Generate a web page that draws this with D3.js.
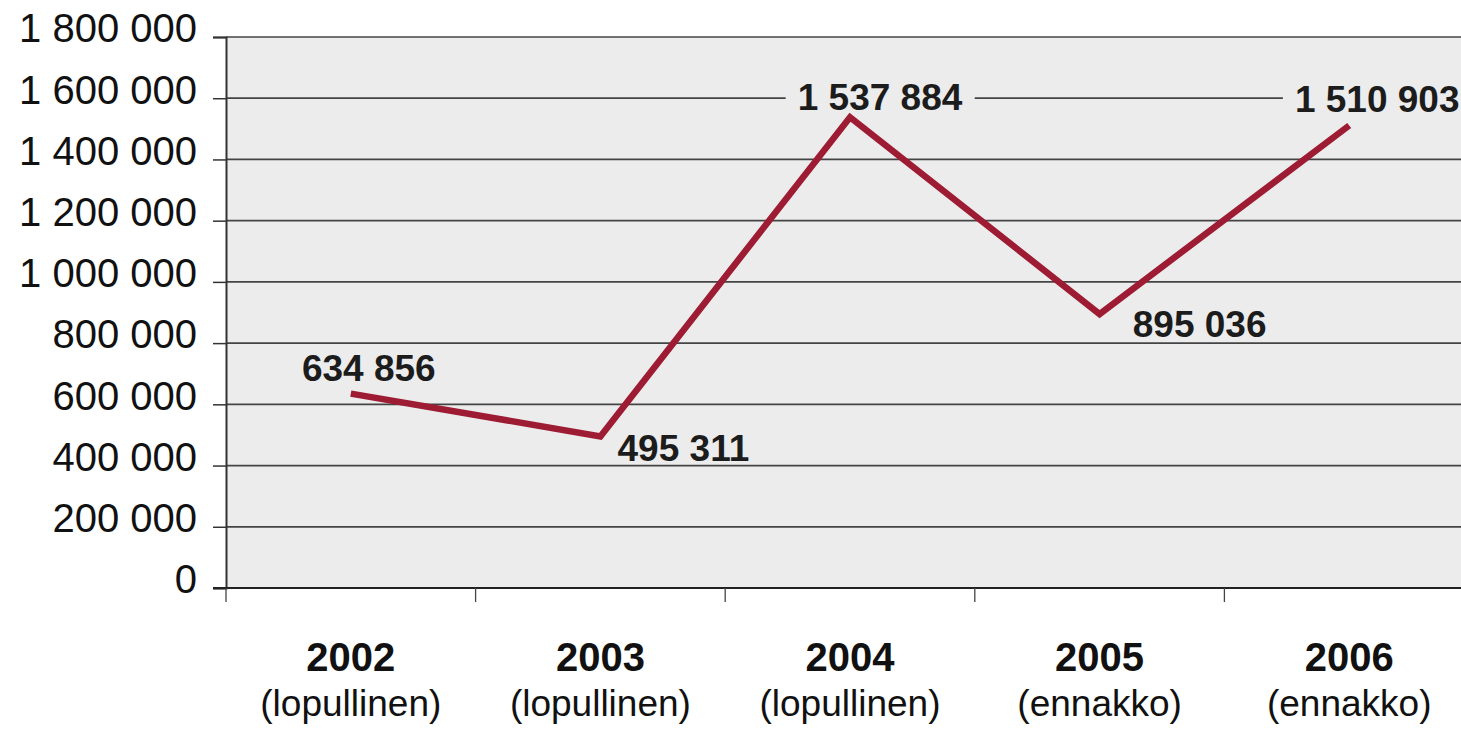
<!DOCTYPE html>
<html>
<head>
<meta charset="utf-8">
<script src="https://cdn.jsdelivr.net/npm/d3@7"></script>
<style>
  html, body { margin: 0; padding: 0; background: #fff; }
  svg { display: block; font-family: "Liberation Sans", Arial, sans-serif; }
</style>
</head>
<body>
<svg id="chart" width="1461" height="730"></svg>
<script>
// Vuodet ja tilan (ennakko/lopullinen) alarivit
const years = ["2002", "2003", "2004", "2005", "2006"];
const yearNotes = ["(lopullinen)", "(lopullinen)", "(lopullinen)", "(ennakko)", "(ennakko)"];
const values = [634856, 495311, 1537884, 895036, 1510903];
const yTicks = [0, 200000, 400000, 600000, 800000, 1000000, 1200000, 1400000, 1600000, 1800000];

// arvotarrojen siirto pisteestä (px), Excelin käsin sijoitetut tarrat
const labelDx = [18, 83, 30, 100, 28];
const labelDy = [-13, 25, -7, 23, -13];

const plot = { left: 226, right: 1474, top: 37, bottom: 588 };
const plotBg = "#ececec";
const lineColor = "#9d1b33";

const fmt = d3.formatLocale({ thousands: " ", grouping: [3], decimal: ",", currency: ["", ""] }).format(",d");

const svg = d3.select("#chart");

const x = d3.scaleBand().domain(years).range([plot.left, plot.right]);
const y = d3.scaleLinear().domain([0, 1800000]).range([plot.bottom, plot.top]);
const cx = (d) => x(d) + x.bandwidth() / 2;

svg.append("rect")
  .attr("x", plot.left).attr("y", plot.top)
  .attr("width", plot.right - plot.left).attr("height", plot.bottom - plot.top)
  .attr("fill", plotBg);

// vaakasuorat apuviivat
svg.append("g")
  .selectAll("line")
  .data(yTicks.filter((t) => t > 0))
  .join("line")
  .attr("x1", plot.left).attr("x2", plot.right)
  .attr("y1", (d) => y(d)).attr("y2", (d) => y(d))
  .attr("stroke", "#444").attr("stroke-width", 1.7);

// y-akseli
const yAxis = svg.append("g")
  .attr("transform", `translate(${plot.left},0)`)
  .call(d3.axisLeft(y).tickValues(yTicks).tickSize(13).tickPadding(16).tickFormat(fmt));
yAxis.select(".domain").attr("stroke", "#333").attr("stroke-width", 2);
yAxis.selectAll(".tick line").attr("stroke", "#333").attr("stroke-width", 1.5);
yAxis.selectAll(".tick text")
  .attr("font-size", 40)
  .attr("font-family", "'Liberation Sans', Arial, sans-serif")
  .attr("fill", "#111")
  .attr("dy", "0.12em");

// x-akselin viiva ja luokkien väliset tikit
svg.append("line")
  .attr("x1", plot.left - 13).attr("x2", plot.right)
  .attr("y1", plot.bottom).attr("y2", plot.bottom)
  .attr("stroke", "#222").attr("stroke-width", 2.2);

const boundaries = years.map((d) => x(d)).concat([x(years[years.length - 1]) + x.bandwidth()]);
svg.append("g")
  .selectAll("line")
  .data(boundaries)
  .join("line")
  .attr("x1", (d) => d).attr("x2", (d) => d)
  .attr("y1", plot.bottom).attr("y2", plot.bottom + 14)
  .attr("stroke", "#444").attr("stroke-width", 1.3);

// luokkatekstit kahdella rivillä
const xl = svg.append("g").selectAll("g").data(years).join("g")
  .attr("transform", (d) => `translate(${cx(d)},0)`);
xl.append("text")
  .attr("y", 671).attr("text-anchor", "middle")
  .attr("font-size", 40).attr("font-weight", "bold").attr("fill", "#111")
  .text((d) => d);
xl.append("text")
  .attr("y", 716).attr("text-anchor", "middle")
  .attr("font-size", 37).attr("fill", "#111")
  .text((d, i) => yearNotes[i]);

const pts = years.map((d, i) => ({ year: d, value: values[i], i }));
const labelPos = (d) => `translate(${cx(d.year) + labelDx[d.i]},${y(d.value) + labelDy[d.i]})`;

// tarrojen taustalaatikot ensin (peittävät apuviivan, eivät viivaa)
const bgLayer = svg.append("g");
const lineLayer = svg.append("g");
const textLayer = svg.append("g");

const lbl = textLayer.selectAll("text").data(pts).join("text")
  .attr("transform", labelPos)
  .attr("text-anchor", "middle")
  .attr("font-size", 37).attr("font-weight", "bold").attr("fill", "#1c1c1c")
  .text((d) => fmt(d.value));

lbl.each(function (d) {
  const t = this.getBBox();
  bgLayer.append("rect")
    .attr("transform", labelPos(d))
    .attr("x", t.x - 12).attr("y", -30)
    .attr("width", t.width + 24).attr("height", 27)
    .attr("fill", plotBg);
});

// viiva
lineLayer.append("path")
  .datum(pts)
  .attr("fill", "none")
  .attr("stroke", lineColor)
  .attr("stroke-width", 6.5)
  .attr("stroke-linejoin", "miter")
  .attr("d", d3.line().x((d) => cx(d.year)).y((d) => y(d.value)));
</script>
</body>
</html>
